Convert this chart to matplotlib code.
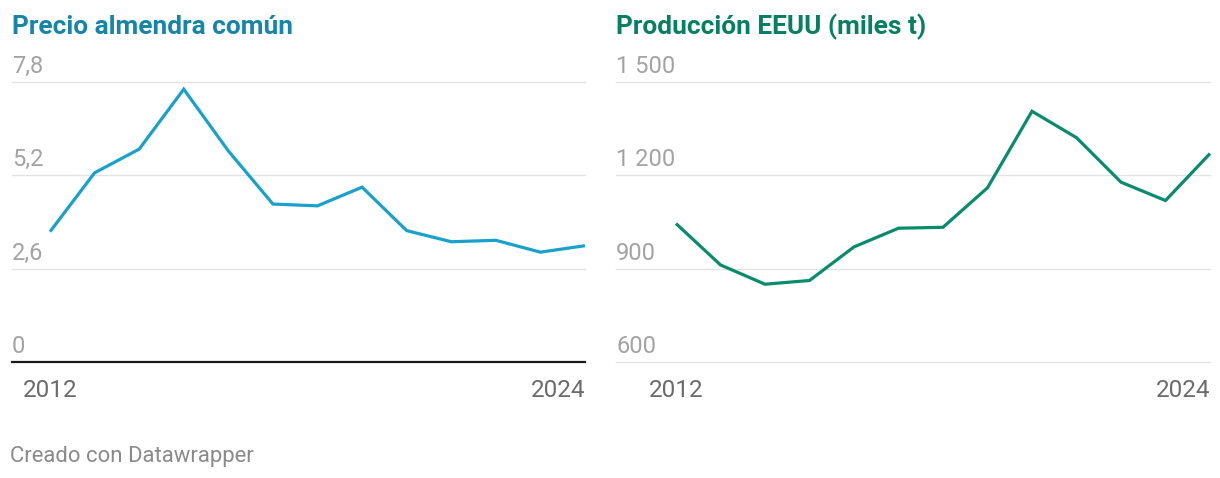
import matplotlib
matplotlib.use("Agg")
import matplotlib.pyplot as plt
import matplotlib.transforms as mtransforms

years = list(range(2012, 2025))
precio = [3.63, 5.27, 5.93, 7.60, 5.88, 4.40, 4.35, 4.87, 3.66, 3.35, 3.39, 3.06, 3.24]
produccion = [1045, 912, 850, 862, 970, 1030, 1033, 1160, 1406, 1321, 1178, 1119, 1270]

left_ticks = [0, 2.6, 5.2, 7.8]
left_labels = ["0", "2,6", "5,2", "7,8"]
right_ticks = [600, 900, 1200, 1500]
right_labels = ["600", "900", "1 200", "1 500"]
x_labels = ["2012", "2024"]

titles = ["Precio almendra común", "Producción EEUU (miles t)"]
line_colors = ["#18a1cd", "#088c6c"]
title_colors = ["#1585aa", "#067f63"]

plt.rcParams["font.family"] = ["Roboto", "DejaVu Sans"]

W, H = 1220, 478
fig = plt.figure(figsize=(W / 100, H / 100), dpi=100)

def fx(px):
    return px / W

def fy(py):
    return 1 - py / H

ax_bottom = fy(362)
ax_h = (362 - 82) / H

panels = [
    dict(left=12, right=585, x0=50, data=precio, ticks=left_ticks, labels=left_labels,
         ylim=(0, 7.8), zero_black=True),
    dict(left=616, right=1210, x0=676, data=produccion, ticks=right_ticks, labels=right_labels,
         ylim=(600, 1500), zero_black=False),
]

for i, p in enumerate(panels):
    ax = fig.add_axes([fx(p["left"]), ax_bottom, fx(p["right"] - p["left"]), ax_h])
    step = (p["right"] - p["x0"]) / 12.0
    xmin = 2012 - (p["x0"] - p["left"]) / step
    ax.set_xlim(xmin, 2024)
    ax.set_ylim(*p["ylim"])
    ax.set_axis_off()
    ax.patch.set_alpha(0)
    for t in p["ticks"]:
        if p["zero_black"] and t == 0:
            ax.axhline(t, color="#1a1a1a", lw=1.6, zorder=2, clip_on=False)
        else:
            ax.axhline(t, color="#e3e3e3", lw=1.0, zorder=1, clip_on=False)
    trans = mtransforms.blended_transform_factory(ax.transAxes, ax.transData)
    off = mtransforms.offset_copy(trans, fig=fig, x=0, y=9, units="dots")
    for t, lab in zip(p["ticks"], p["labels"]):
        ax.text(0, t, lab, transform=off, ha="left", va="baseline",
                fontsize=17, color="#a3a3a3")
    ax.plot(years, p["data"], color=line_colors[i], lw=2.3, solid_joinstyle="miter",
            solid_capstyle="butt", zorder=3, clip_on=False)
    fig.text(fx(p["x0"]), fy(397), x_labels[0], ha="center", va="baseline",
             fontsize=17.5, color="#6b6b6b")
    fig.text(fx(p["right"]), fy(397), x_labels[1], ha="right", va="baseline",
             fontsize=17.5, color="#6b6b6b")
    fig.text(fx(p["left"]), fy(34), titles[i], ha="left", va="baseline",
             fontsize=18.9, fontweight="bold", color=title_colors[i])

fig.text(fx(10), fy(462), "Creado con Datawrapper", ha="left", va="baseline",
         fontsize=15.9, color="#8a8a8a")

fig.savefig("out.png", dpi=100, facecolor="white")
